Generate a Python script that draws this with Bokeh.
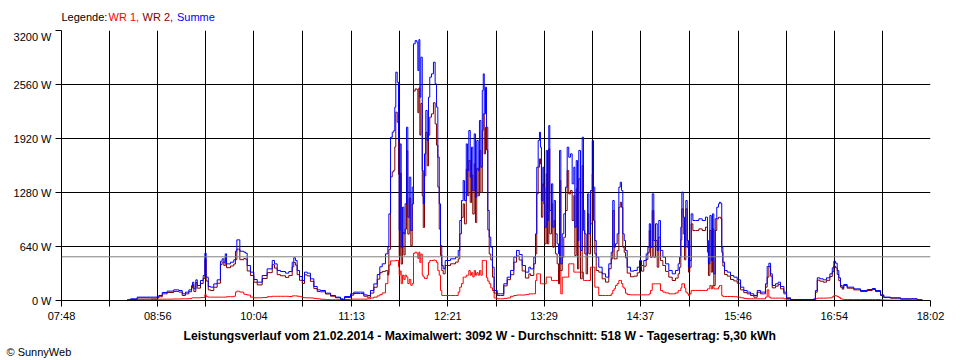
from bokeh.plotting import figure
from bokeh.layouts import column
from bokeh.models import Range1d, FixedTicker, Span, PrintfTickFormatter, Title
from bokeh.core.properties import value
from bokeh.embed import file_html
from bokeh.resources import INLINE

# ---------------- data ----------------
tick_labels = ["07:48", "08:56", "10:04", "11:13", "12:21", "13:29", "14:37", "15:46", "16:54", "18:02"]
y_ticks = [0, 640, 1280, 1920, 2560, 3200]
average_w = 518

# time of day in minutes after midnight
minutes = [
    514.4, 516.8, 521.5, 530.9, 535.6, 536.7, 539.2, 542.7, 547.3, 550.9,
    553.3, 555.6, 558.0, 559.9, 560.6, 561.5, 562.9, 563.9, 566.2, 568.1,
    569.3, 570.2, 571.7, 573.3, 575.6, 578.0, 580.3, 581.5, 582.7, 583.7,
    584.6, 587.4, 589.7, 590.9, 591.9, 593.3, 594.0, 596.8, 598.0, 599.2,
    601.5, 603.9, 606.3, 609.8, 613.3, 616.9, 618.5, 620.4, 622.7, 626.3,
    628.6, 631.0, 632.1, 633.3, 634.5, 636.2, 638.1, 639.7, 641.6, 643.9,
    646.3, 648.7, 651.0, 654.5, 658.1, 661.6, 665.1, 667.0, 668.0, 672.2,
    674.5, 679.3, 681.6, 684.0, 686.3, 688.7, 691.1, 692.9, 694.6, 696.9,
    698.6, 699.3, 700.5, 701.7, 702.8, 703.5, 704.2, 705.2, 706.1, 706.6,
    707.3, 708.0, 708.9, 709.9, 710.8, 711.8, 712.7, 713.7, 714.8, 715.8,
    716.7, 717.9, 719.0, 719.8, 720.5, 721.2, 721.9, 722.9, 723.6, 724.5,
    725.4, 726.4, 727.3, 728.2, 729.4, 730.8, 732.0, 733.0, 733.9, 734.9,
    735.8, 736.7, 737.7, 739.1, 742.9, 746.4, 748.3, 749.4, 750.6, 751.8,
    752.7, 754.0, 754.9, 755.8, 756.8, 757.7, 758.6, 759.6, 760.5, 761.4,
    762.4, 763.3, 764.3, 765.3, 766.0, 766.7, 767.6, 768.3, 769.2, 770.2,
    771.3, 772.5, 773.7, 775.9, 778.2, 780.5, 782.9, 785.3, 787.6, 789.5,
    791.4, 793.5, 795.8, 798.2, 799.4, 801.7, 802.9, 803.8, 804.8, 805.7,
    806.4, 807.1, 808.1, 808.8, 809.5, 810.5, 811.4, 812.3, 813.0, 814.2,
    815.1, 816.1, 817.0, 818.2, 819.2, 819.9, 820.8, 821.8, 822.9, 824.1,
    825.3, 826.4, 827.6, 828.8, 830.0, 830.7, 831.7, 832.6, 833.5, 834.7,
    835.9, 836.8, 837.7, 838.7, 839.7, 840.6, 841.8, 843.0, 843.9, 844.8,
    845.8, 847.6, 850.0, 852.4, 854.7, 856.4, 857.5, 858.5, 859.4, 860.6,
    861.8, 862.8, 863.7, 864.6, 865.6, 866.5, 867.7, 870.0, 872.4, 874.8,
    876.4, 877.8, 879.4, 881.1, 882.3, 883.3, 884.2, 885.4, 886.5, 887.7,
    888.9, 890.0, 891.2, 892.9, 894.8, 897.1, 899.5, 901.8, 903.7, 904.7,
    905.6, 906.3, 907.3, 908.2, 909.1, 910.1, 911.0, 911.9, 912.9, 914.1,
    916.0, 918.3, 920.7, 923.0, 924.4, 925.1, 926.1, 927.1, 928.0, 928.9,
    929.9, 931.0, 932.2, 932.9, 933.6, 934.5, 935.3, 936.5, 938.4, 940.7,
    943.0, 945.4, 947.8, 950.1, 952.5, 954.8, 957.2, 959.6, 961.9, 964.2,
    965.4, 966.6, 967.8, 969.0, 970.2, 972.5, 974.4, 976.0, 978.4, 980.3,
    983.1, 999.5, 1000.7, 1002.0, 1003.8, 1006.2, 1008.5, 1010.9, 1012.6, 1013.7,
    1014.9, 1016.1, 1017.2, 1018.4, 1019.6, 1020.7, 1023.1, 1027.8, 1032.5, 1037.3,
    1040.8, 1043.1, 1046.7, 1049.0, 1053.7, 1060.8, 1067.9, 1072.6, 1076.1,
]

wr1 = [
    5, 8, 10, 12, 15, 15, 16, 16, 18, 18,
    20, 20, 22, 30, 32, 32, 32, 32, 35, 35,
    71, 45, 40, 40, 40, 40, 40, 40, 40, 40,
    45, 45, 50, 100, 110, 110, 100, 75, 71, 65,
    40, 32, 32, 35, 45, 50, 50, 50, 50, 50,
    47, 55, 55, 55, 50, 45, 35, 32, 32, 30,
    25, 20, 15, 10, 8, 8, 8, 8, 12, 16,
    16, 16, 16, 20, 30, 40, 55, 70, 90, 200,
    330, 420, 470, 470, 470, 470, 474, 474, 400, 300,
    350, 200, 300, 250, 300, 280, 200, 250, 180, 200,
    560, 573, 560, 500, 573, 450, 550, 300, 280, 260,
    260, 300, 450, 474, 474, 480, 474, 450, 355, 300,
    118, 60, 59, 59, 59, 59, 100, 158, 200, 277,
    277, 300, 300, 355, 300, 330, 280, 355, 300, 330,
    300, 355, 300, 474, 474, 474, 474, 270, 230, 200,
    150, 118, 30, 20, 20, 25, 30, 50, 59, 65,
    65, 65, 70, 79, 79, 79, 237, 316, 316, 316,
    198, 198, 198, 198, 198, 277, 277, 277, 277, 237,
    237, 237, 237, 237, 356, 356, 79, 277, 277, 277,
    277, 435, 435, 435, 336, 336, 336, 336, 336, 336,
    336, 237, 237, 237, 237, 237, 395, 395, 395, 158,
    158, 59, 59, 59, 59, 80, 119, 140, 178, 200,
    237, 237, 200, 158, 140, 87, 70, 67, 67, 67,
    67, 67, 67, 67, 67, 80, 120, 198, 198, 198,
    198, 198, 119, 100, 90, 79, 79, 90, 119, 119,
    150, 198, 198, 150, 99, 80, 59, 80, 119, 119,
    119, 119, 119, 119, 138, 138, 178, 138, 178, 138,
    138, 138, 160, 178, 178, 60, 47, 47, 47, 47,
    45, 40, 32, 25, 20, 20, 20, 20, 20, 20,
    40, 126, 40, 28, 28, 28, 28, 28, 20, 8,
    8, 8, 20, 28, 28, 28, 30, 32, 45, 59,
    55, 47, 35, 20, 15, 12, 12, 12, 12, 12,
    12, 12, 8, 5, 4, 3, 2, 0, 0,
]

wr2 = [
    3, 12, 30, 28, 30, 44, 79, 95, 108, 100,
    59, 79, 104, 148, 185, 106, 213, 146, 202, 261,
    490, 231, 126, 118, 157, 205, 426, 454, 414, 513,
    389, 409, 432, 484, 609, 609, 484, 498, 490, 350,
    296, 217, 185, 261, 330, 424, 384, 306, 293, 274,
    296, 399, 451, 419, 306, 239, 202, 304, 292, 227,
    141, 106, 103, 77, 51, 32, 12, 4, 35, 63,
    83, 83, 51, 39, 88, 157, 253, 330, 345, 353,
    302, 607, 1465, 1525, 1545, 1821, 2232, 2113, 1496, 530,
    1506, 432, 806, 540, 846, 1774, 787, 1212, 650, 1143,
    2482, 2508, 2502, 2226, 2519, 1960, 2334, 1241, 866, 1478,
    1992, 1596, 1960, 2173, 2212, 2344, 2093, 1841, 1344, 846,
    534, 355, 316, 415, 435, 455, 493, 790, 985, 1145,
    908, 1556, 1241, 1660, 1162, 1487, 1024, 1620, 925, 1566,
    1241, 1778, 1280, 2015, 2212, 1738, 2054, 1784, 837, 551,
    482, 277, 88, 59, 59, 173, 247, 306, 455, 528,
    480, 350, 266, 316, 296, 435, 553, 1264, 1580, 1679,
    1619, 987, 1382, 1145, 671, 1501, 671, 1797, 790, 1146,
    632, 948, 553, 435, 197, 1422, 356, 513, 750, 1066,
    1540, 1263, 1303, 948, 1244, 533, 1323, 375, 1442, 257,
    1599, 830, 553, 316, 1027, 553, 909, 1501, 948, 553,
    356, 336, 257, 218, 376, 493, 1066, 492, 494, 590,
    1106, 1165, 1104, 632, 571, 506, 325, 281, 289, 328,
    407, 348, 407, 486, 565, 829, 512, 1066, 513, 711,
    395, 750, 474, 414, 345, 277, 237, 266, 316, 395,
    719, 1086, 790, 482, 1086, 631, 336, 394, 908, 829,
    829, 849, 829, 869, 573, 297, 829, 336, 849, 178,
    830, 968, 986, 987, 975, 572, 408, 308, 289, 249,
    232, 205, 126, 93, 79, 59, 39, 98, 79, 79,
    158, 277, 402, 288, 150, 170, 189, 138, 79, 24,
    4, 12, 98, 241, 229, 217, 239, 284, 342, 407,
    387, 309, 234, 158, 135, 178, 146, 126, 106, 118,
    130, 106, 59, 35, 28, 17, 18, 8, 4,
]

summe = [
    8, 20, 40, 40, 45, 59, 95, 111, 126, 118,
    79, 99, 126, 178, 217, 138, 245, 178, 237, 296,
    561, 276, 166, 158, 197, 245, 466, 494, 454, 553,
    434, 454, 482, 584, 719, 719, 584, 573, 561, 415,
    336, 249, 217, 296, 375, 474, 434, 356, 343, 324,
    343, 454, 506, 474, 356, 284, 237, 336, 324, 257,
    166, 126, 118, 87, 59, 40, 20, 12, 47, 79,
    99, 99, 67, 59, 118, 197, 308, 400, 435, 553,
    632, 1027, 1935, 1995, 2015, 2291, 2706, 2587, 1896, 830,
    1856, 632, 1106, 790, 1146, 2054, 987, 1462, 830, 1343,
    3042, 3081, 3062, 2726, 3092, 2410, 2884, 1541, 1146, 1738,
    2252, 1896, 2410, 2647, 2686, 2824, 2567, 2291, 1699, 1146,
    652, 415, 375, 474, 494, 514, 593, 948, 1185, 1422,
    1185, 1856, 1541, 2015, 1462, 1817, 1304, 1975, 1225, 1896,
    1541, 2133, 1580, 2489, 2686, 2212, 2528, 2054, 1067, 751,
    632, 395, 118, 79, 79, 198, 277, 356, 514, 593,
    545, 415, 336, 395, 375, 514, 790, 1580, 1896, 1995,
    1817, 1185, 1580, 1343, 869, 1778, 948, 2074, 1067, 1383,
    869, 1185, 790, 672, 553, 1778, 435, 790, 1027, 1343,
    1817, 1698, 1738, 1383, 1580, 869, 1659, 711, 1778, 593,
    1935, 1067, 790, 553, 1264, 790, 1304, 1896, 1343, 711,
    514, 395, 316, 277, 435, 573, 1185, 632, 672, 790,
    1343, 1402, 1304, 790, 711, 593, 395, 348, 356, 395,
    474, 415, 474, 553, 632, 909, 632, 1264, 711, 909,
    593, 948, 593, 514, 435, 356, 316, 356, 435, 514,
    869, 1284, 988, 632, 1185, 711, 395, 474, 1027, 948,
    948, 968, 948, 988, 711, 435, 1007, 474, 1027, 316,
    968, 1106, 1146, 1165, 1153, 632, 455, 355, 336, 296,
    277, 245, 158, 118, 99, 79, 59, 118, 99, 99,
    198, 403, 442, 316, 178, 198, 217, 166, 99, 32,
    12, 20, 118, 269, 257, 245, 269, 316, 387, 466,
    442, 356, 269, 178, 150, 190, 158, 138, 118, 130,
    142, 118, 67, 40, 32, 20, 20, 8, 4,
]

legend_items = ["Legende:", "WR 1,", "WR 2,", "Summe"]
title_text = ("Leistungsverlauf vom 21.02.2014 - Maximalwert: 3092 W - "
              "Durchschnitt: 518 W - Tagesertrag: 5,30 kWh")
copyright_text = "\u00a9 SunnyWeb"

# ---------------- layout ----------------
def to_min(s):
    h, m = s.split(":")
    return int(h) * 60 + int(m)

major = [to_min(s) for s in tick_labels]
minor = [(a + b) / 2 for a, b in zip(major[:-1], major[1:])]

FONT = "Liberation Sans"
W = 952
LEFT, RIGHT = 61, 22
TOP_H, FH, BOTTOM = 30, 270, 60

# top strip: coloured legend text; its frame has the same horizontal extent as the chart's
top = figure(width=W, height=TOP_H, x_range=Range1d(LEFT, W - RIGHT), y_range=Range1d(0, TOP_H),
             output_backend="svg", toolbar_location=None,
             x_axis_location=None, y_axis_location=None,
             min_border_left=LEFT, min_border_right=RIGHT, min_border_top=0, min_border_bottom=0)
top.outline_line_color = None
top.grid.visible = False
top.background_fill_color = "white"
top.border_fill_color = "white"
legend_colors = ["black", "#ff0000", "#800000", "#0000ff"]
legend_x = [61, 108, 142, 176.5]
for txt, col, lx in zip(legend_items, legend_colors, legend_x):
    top.text(x=[lx], y=[TOP_H - 16.5], text=[txt], text_color=col,
             text_font=value(FONT), text_font_size="11px",
             text_baseline="middle", text_align="left")

# main chart
p = figure(frame_width=W - LEFT - RIGHT, frame_height=FH,
           x_range=Range1d(major[0], major[-1]), y_range=Range1d(y_ticks[0], y_ticks[-1]),
           output_backend="svg", toolbar_location=None,
           min_border_left=LEFT, min_border_right=RIGHT, min_border_top=0, min_border_bottom=BOTTOM)
p.outline_line_color = None
p.background_fill_color = "white"
p.border_fill_color = "white"

xa = p.xaxis[0]
xa.ticker = FixedTicker(ticks=major, minor_ticks=minor)
xa.major_label_overrides = {m: s for m, s in zip(major, tick_labels)}
ya = p.yaxis[0]
ya.ticker = FixedTicker(ticks=y_ticks)
ya.formatter = PrintfTickFormatter(format="%d W")

for ax in (xa, ya):
    ax.axis_line_color = "black"
    ax.major_tick_line_color = "black"
    ax.minor_tick_line_color = "black"
    ax.major_tick_in = 0
    ax.major_tick_out = 6
    ax.minor_tick_in = 0
    ax.minor_tick_out = 6
    ax.major_label_text_font = FONT
    ax.major_label_text_font_size = "11px"
    ax.major_label_text_color = "black"
xa.major_label_standoff = 3
ya.major_label_standoff = 4

p.xgrid.grid_line_color = "black"
p.xgrid.minor_grid_line_color = "black"
p.ygrid.grid_line_color = "black"

p.add_layout(Span(location=average_w, dimension="width", line_color="#808080", line_width=1))

p.step(minutes, wr1, mode="after", line_color="#ff0000", line_width=1)
p.step(minutes, wr2, mode="after", line_color="#800000", line_width=1)
p.step(minutes, summe, mode="after", line_color="#0000ff", line_width=1)

# texts below the chart
p.add_layout(Title(text=title_text, align="left", offset=122, standoff=4,
                   text_font=FONT, text_font_size="12.2px", text_font_style="bold",
                   text_color="black"), "below")
p.add_layout(Title(text=copyright_text, align="left", offset=-55, standoff=-2,
                   text_font=FONT, text_font_size="11px", text_font_style="normal",
                   text_color="black"), "below")

layout = column(top, p, spacing=0)
open("out.html", "w").write(file_html(layout, INLINE))
